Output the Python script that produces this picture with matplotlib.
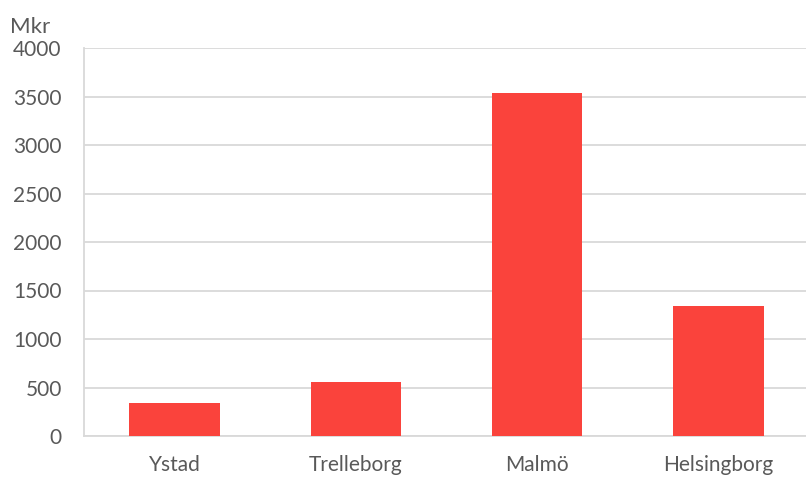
import matplotlib.pyplot as plt

# Mkr per ort
orter = ['Ystad', 'Trelleborg', 'Malmö', 'Helsingborg']
mkr = [340, 560, 3540, 1345]
yticks = [0, 500, 1000, 1500, 2000, 2500, 3000, 3500, 4000]

plt.rcParams['font.family'] = ['Lato', 'DejaVu Sans']
textfarg = '#595959'
linjefarg = '#d9d9d9'

fig = plt.figure(figsize=(8.06, 4.79), dpi=100)
ax = fig.add_axes([84 / 806, 43 / 479, 725 / 806, 388 / 479])

ax.bar(range(len(orter)), mkr, width=0.5, color='#FA433C', zorder=3)

ax.set_xlim(-0.5, 3.5)
ax.set_ylim(0, 4000)
ax.set_yticks(yticks)
ax.set_xticks(range(len(orter)))
ax.set_xticklabels(orter)

ax.grid(axis='y', color=linjefarg, linewidth=1.3, zorder=0)
for s in ['top', 'right']:
    ax.spines[s].set_visible(False)
for s in ['left', 'bottom']:
    ax.spines[s].set_color(linjefarg)
    ax.spines[s].set_linewidth(1.3)

ax.tick_params(axis='both', length=0, labelsize=15, colors=textfarg)
ax.tick_params(axis='y', pad=16)
ax.tick_params(axis='x', pad=14)

fig.text(10 / 806, 1 - 33 / 479, 'Mkr', fontsize=16, color=textfarg)

fig.savefig('out.png', dpi=100)
